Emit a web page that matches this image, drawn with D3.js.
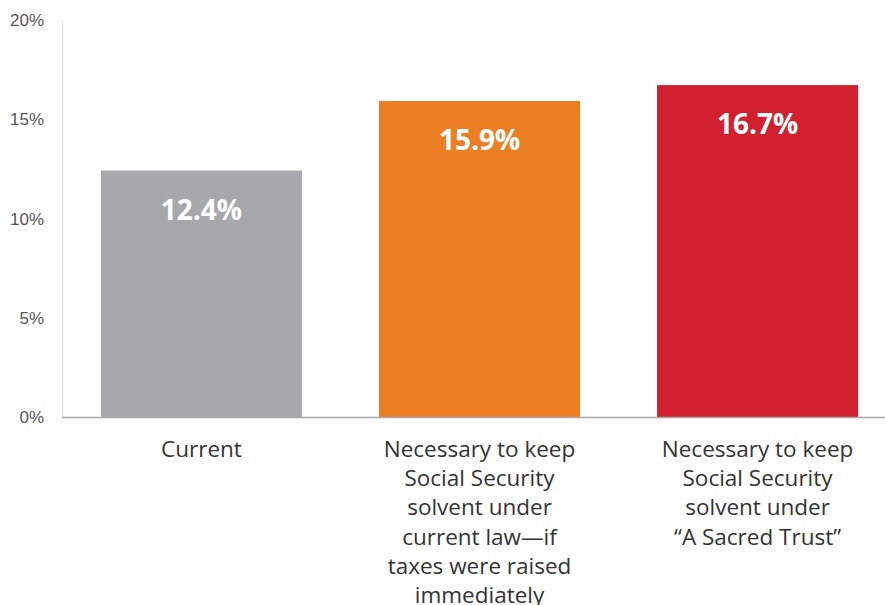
<!DOCTYPE html>
<html>
<head>
<meta charset="utf-8">
<script src="https://cdn.jsdelivr.net/npm/d3@7"></script>
<style>
  body { margin: 0; background: #fff; }
  svg { display: block; font-family: "Open Sans", "Noto Sans", sans-serif; }
</style>
</head>
<body>
<div id="container"></div>
<script>
'use strict'

// data
const categories = ['Current',
  'Necessary to keep Social Security solvent under current law\u2014if taxes were raised immediately',
  'Necessary to keep Social Security solvent under \u201CA Sacred Trust\u201D'];
const catLines = [
  ['Current'],
  ['Necessary to keep', 'Social Security', 'solvent under', 'current law\u2014if', 'taxes were raised', 'immediately'],
  ['Necessary to keep', 'Social Security', 'solvent under', '\u201CA Sacred Trust\u201D']
];
const values = [12.4, 15.9, 16.7];
const barColors = ['#a7a8ab', '#ec7f24', '#d1202f'];
const yTicks = [0, 5, 10, 15, 20];

const w = 885, h = 605;
const x0 = 62, yBase = 417, yTop = 19.5;

const svg = d3.select('#container').append('svg')
  .attr('width', w).attr('height', h);

const xScale = d3.scaleBand()
  .domain(categories)
  .range([x0, 897])
  .paddingInner(0.277)
  .paddingOuter(0.14);

const yScale = d3.scaleLinear()
  .domain([0, 20])
  .range([yBase, yTop]);

// y axis
const yAxis = d3.axisLeft(yScale).tickValues(yTicks).tickSize(0).tickPadding(18)
  .tickFormat(d => d + '%');
const gy = svg.append('g').attr('transform', 'translate(' + x0 + ',0)').call(yAxis);
gy.select('.domain').attr('stroke', '#e3e3e3').attr('stroke-width', 1.5);
gy.selectAll('.tick text').attr('fill', '#555').style('font-size', '17px')
  .attr('dy', '0.35em');

// bars
svg.selectAll('rect.bar')
  .data(values)
  .enter()
  .append('rect')
  .attr('class', 'bar')
  .attr('x', (d, i) => xScale(categories[i]))
  .attr('y', d => yScale(d))
  .attr('width', xScale.bandwidth())
  .attr('height', d => yBase - yScale(d))
  .attr('fill', (d, i) => barColors[i]);

// baseline
svg.append('line')
  .attr('x1', x0).attr('x2', w)
  .attr('y1', yBase + 0.5).attr('y2', yBase + 0.5)
  .attr('stroke', '#a9a9a9').attr('stroke-width', 1.5);

// value labels
svg.selectAll('text.val')
  .data(values)
  .enter()
  .append('text')
  .attr('class', 'val')
  .attr('x', (d, i) => xScale(categories[i]) + xScale.bandwidth() / 2)
  .attr('y', d => yScale(d) + 49)
  .attr('text-anchor', 'middle')
  .attr('fill', '#fff')
  .style('font-size', '28px')
  .style('font-weight', '700')
  .text(d => d.toFixed(1) + '%');

// category labels (last line is clipped by the frame, as in the original)
catLines.forEach(function(lines, i) {
  const cx = xScale(categories[i]) + xScale.bandwidth() / 2;
  const t = svg.append('text')
    .attr('x', cx)
    .attr('y', 457)
    .attr('text-anchor', 'middle')
    .attr('fill', '#333')
    .style('font-size', '22.5px');
  lines.forEach(function(l, j) {
    t.append('tspan')
      .attr('x', cx)
      .attr('y', 457 + j * 29.2)
      .text(l);
  });
});
</script>
</body>
</html>
